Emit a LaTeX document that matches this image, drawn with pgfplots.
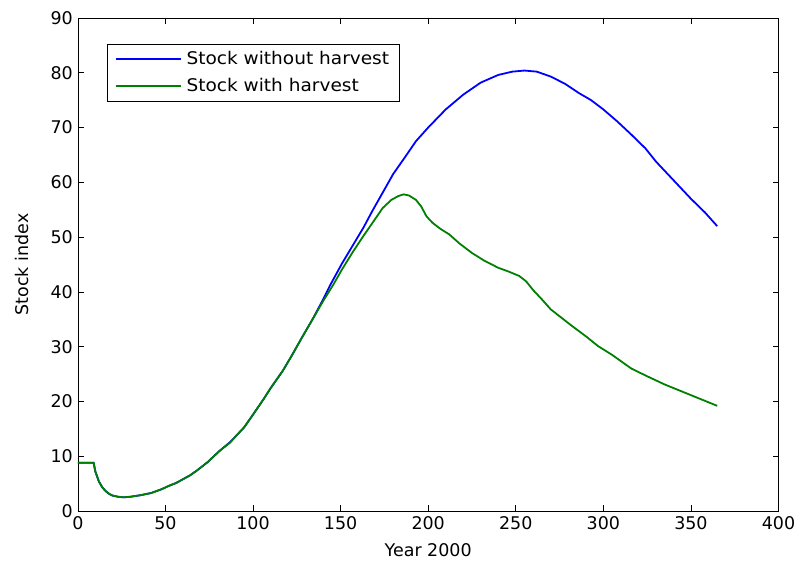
\documentclass[border=0pt]{standalone}
\usepackage{fontspec}
\setmainfont{DejaVu Sans}
\newfontfamily\legfont[FakeStretch=1.06]{DejaVu Sans}
\usepackage{pgfplots}
\pgfplotsset{compat=1.18}
\definecolor{mblue}{RGB}{0,0,255}
\definecolor{mgreen}{RGB}{0,128,0}
\begin{document}
\fontsize{17.5bp}{21bp}\selectfont
\begin{tikzpicture}
\begin{axis}[
  name=ax,
  scale only axis,
  width=702bp, height=494bp,
  xmin=0, xmax=400, ymin=0, ymax=90,
  xtick={0,50,...,400}, ytick={0,10,...,90},
  tick align=inside,
  major tick length=6bp,
  /pgf/number format/assume math mode=true,
  ticklabel style={font=\fontsize{17.5bp}{21bp}\selectfont},
  yticklabel style={xshift=1bp},
  label style={font=\fontsize{17.5bp}{21bp}\selectfont},
  xlabel={Year 2000}, ylabel={Stock index},
  xlabel style={at={(axis description cs:0.5,0)}, anchor=center, yshift=-39bp},
  ylabel style={at={(axis description cs:0,0.5)}, anchor=center, yshift=56bp},
  axis line style={black, line width=0.7bp},
  every tick/.style={black, line width=0.7bp},
  legend style={at={(0.041,0.947)}, anchor=north west, draw=black, line width=0.7bp,
    font=\legfont\fontsize{17.5bp}{21bp}\selectfont, inner xsep=8bp, inner ysep=5bp,
    row sep=7bp, column sep=3bp},
  legend cell align=left,
  legend image code/.code={\draw[#1, line width=1.8bp] (0bp,0bp) -- (65bp,0bp);},
]
\addplot[mblue, line width=1.8bp] coordinates {
(0,8.8)(9,8.8)(10,7.2)(11,6.3)(12,5.4)(14,4.3)(16,3.6)(18,3.1)(20,2.8)(23,2.6)
(26,2.5)(30,2.6)(36,2.9)(42,3.3)(48,4.0)(52,4.6)(56,5.1)(60,5.8)(64,6.5)(68,7.4)
(74,8.9)(81,11.0)(87,12.6)(90,13.6)(95,15.3)(100,17.6)(106,20.4)(110,22.4)(117,25.6)
(122,28.3)(128,31.7)(134,35.0)(140,38.6)(144,41.2)(151,45.3)(157,48.5)(163,51.7)
(168,54.7)(174,58.1)(180,61.5)(187,64.7)(193,67.5)(200,70.0)(210,73.3)(220,76.0)
(230,78.2)(240,79.6)(248,80.2)(255,80.4)(262,80.2)(270,79.3)(278,78.0)(286,76.3)
(293,75.0)(300,73.3)(308,71.1)(316,68.7)(324,66.2)(330,63.8)(340,60.4)(350,57.0)
(358,54.5)(365,52.0)
};
\addlegendentry{Stock without harvest}
\addplot[mgreen, line width=1.8bp] coordinates {
(0,8.8)(9,8.8)(10,7.2)(11,6.3)(12,5.4)(14,4.3)(16,3.6)(18,3.1)(20,2.8)(23,2.6)
(26,2.5)(30,2.6)(36,2.9)(42,3.3)(48,4.0)(52,4.6)(56,5.1)(60,5.8)(64,6.5)(68,7.4)
(74,8.9)(81,11.0)(87,12.5)(90,13.6)(95,15.3)(100,17.6)(106,20.4)(110,22.4)(117,25.6)
(122,28.3)(128,31.7)(134,35.0)(140,38.3)(146,41.4)(151,44.2)(157,47.3)(163,50.2)
(168,52.5)(174,55.3)(179,56.8)(183,57.5)(186,57.8)(189,57.6)(193,56.8)(196,55.6)
(199,53.8)(202.5,52.6)(207,51.5)(212,50.5)(218,48.8)(225,47.1)(232,45.7)(240,44.4)
(246,43.7)(252,42.9)(256,41.9)(260,40.3)(265,38.6)(270,36.8)(276,35.3)(282,33.8)
(290,31.9)(297,30.1)(305,28.5)(316,26.0)(325,24.6)(335,23.1)(345,21.8)(355,20.5)
(365,19.2)
};
\addlegendentry{Stock with harvest}
\end{axis}
\useasboundingbox ([xshift=-78bp,yshift=-58bp]ax.south west) rectangle ([xshift=21bp,yshift=18bp]ax.north east);
\end{tikzpicture}
\end{document}
